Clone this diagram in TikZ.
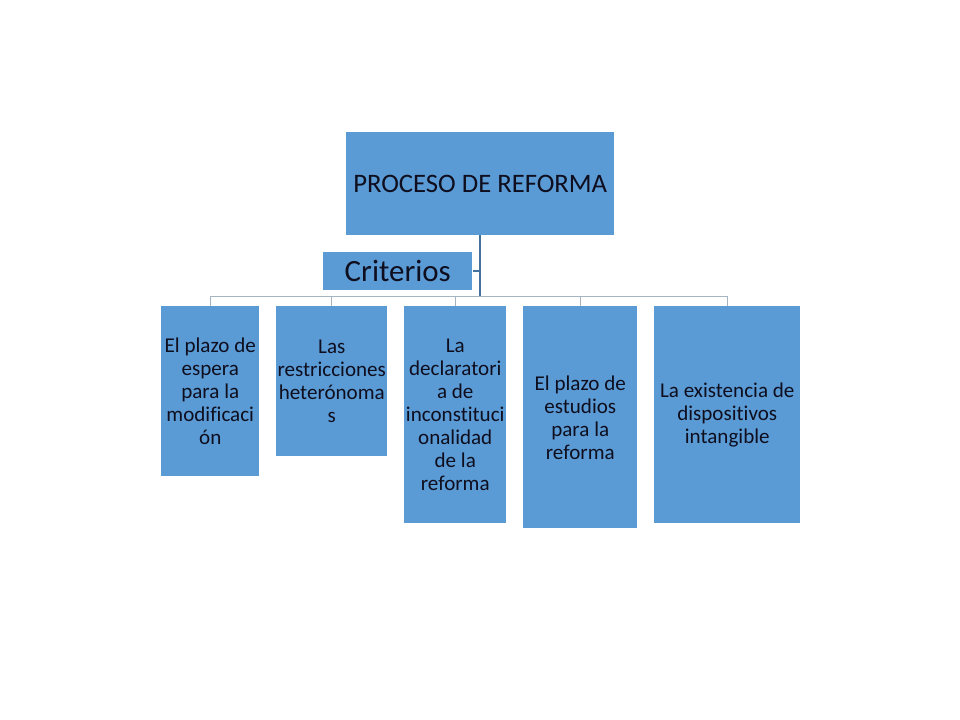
\documentclass[tikz,border=0pt]{standalone}
\usepackage{fontspec}
\setmainfont[Ligatures=NoCommon]{Carlito}
\definecolor{boxblue}{HTML}{5B9BD5}
\definecolor{trunkc}{HTML}{41719C}
\definecolor{busc}{HTML}{A6B4C2}
\definecolor{txt}{HTML}{0E0E1E}
\begin{document}
\begin{tikzpicture}[x=0.75pt,y=-0.75pt,
  blk/.style={fill=boxblue,draw=none,inner sep=0pt,anchor=north west,align=center,text=txt},
  child/.style={blk,font=\fontsize{15.8}{17.25}\selectfont},
  trunk/.style={draw=trunkc,line width=1.2pt},
  bus/.style={draw=busc,line width=0.75pt}]
\useasboundingbox (0,0) rectangle (960,720);
\node[blk,minimum width=201pt,minimum height=77pt,font=\fontsize{20}{24}\selectfont] (top) at (346,132) {PROCESO DE REFORMA};
\node[blk,minimum width=111.75pt,minimum height=28.5pt,font=\fontsize{23.2}{26}\selectfont] (crit) at (323,252) {Criterios};
\node[child,minimum width=73.5pt,minimum height=127.5pt] (c1) at (161,306) {El plazo de\\espera\\para la\\modificaci\\ón};
\node[child,minimum width=83.25pt,minimum height=112.5pt] (c2) at (276,306) {Las\\restricciones\\heterónoma\\s};
\node[child,minimum width=76.5pt,minimum height=162.75pt] (c3) at (404,306) {La\\declaratori\\a de\\inconstituci\\onalidad\\de la\\reforma};
\node[child,minimum width=85.5pt,minimum height=166.5pt] (c4) at (523,306) {El plazo de\\estudios\\para la\\reforma};
\node[child,minimum width=109.5pt,minimum height=162.75pt] (c5) at (654,306) {La existencia de\\dispositivos\\intangible};
\coordinate (bus) at (480,297);
\draw[trunk] (top.south) -- (top.south |- bus);
\draw[trunk] (crit.east) -- (crit.east -| top.south);
\draw[bus] (c1.north) -- (c1.north |- bus) -- (c5.north |- bus) -- (c5.north);
\draw[bus] (c2.north) -- (c2.north |- bus);
\draw[bus] (c3.north) -- (c3.north |- bus);
\draw[bus] (c4.north) -- (c4.north |- bus);
\end{tikzpicture}
\end{document}
